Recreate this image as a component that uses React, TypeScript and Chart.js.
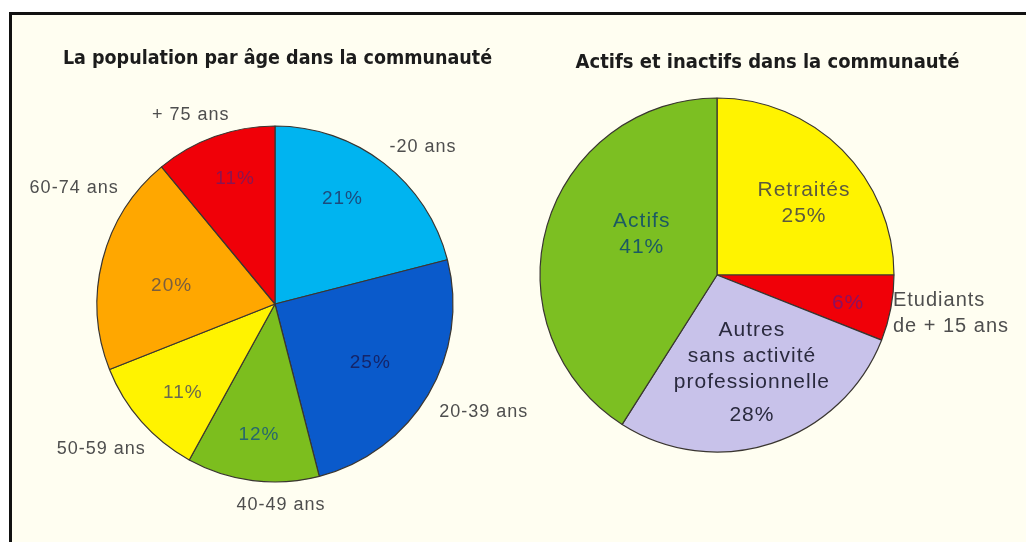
import React, { useEffect, useRef } from "react";
import { Chart, registerables } from "chart.js";

Chart.register(...registerables);

const W = 1026;
const H = 542;

// ---------- data ----------
const ageTitle = "La population par âge dans la communauté";
const ageCategories = ["-20 ans", "20-39 ans", "40-49 ans", "50-59 ans", "60-74 ans", "+ 75 ans"];
const ageValues = [21, 25, 12, 11, 20, 11];

const activityTitle = "Actifs et inactifs dans la communauté";
const activityCategories = [
  ["Retraités"],
  ["Etudiants", "de + 15 ans"],
  ["Autres", "sans activité", "professionnelle"],
  ["Actifs"],
];
const activityValues = [25, 6, 28, 41];

// ---------- styles ----------
const ageColors = ["#00B4F0", "#0A5ACB", "#7CBE1E", "#FFF300", "#FFA700", "#F00008"];
const ageTextColors = ["#1B4C7E", "#14256A", "#28686C", "#6A6A4E", "#7A5E3E", "#8C1450"];
const activityColors = ["#FFF300", "#F00008", "#C8C2EA", "#7CBF22"];
const activityTextColors = ["#5C5A3E", "#8C1060", "#2A2A3E", "#1C5A62"];

// label placement: angle (deg, clockwise from top) and distance as a fraction of the radius
const ageLayout = [
  { inner: [32.8, 0.7], outer: [43.3, 1.213] },
  { inner: [121.8, 0.63], outer: [117.3, 1.32] },
  { inner: [187, 0.74], outer: [178.3, 1.129] },
  { inner: [226, 0.72], outer: [230.2, 1.27] },
  { inner: [280, 0.59], outer: [300, 1.303] },
  { inner: [342.4, 0.74], outer: [336, 1.163] },
];
const activityLayout = [
  { inner: [50.5, 0.637], nameInside: true },
  { inner: [102, 0.757], outer: [102.2, 1.017], align: "left" },
  { inner: [160.4, 0.588], nameInside: true, gap: 7 },
  { inner: [298.5, 0.484], nameInside: true },
];

type Layout = { inner: number[]; outer?: number[]; nameInside?: boolean; align?: string; gap?: number };

function polar(cx: number, cy: number, r: number, p: number[]) {
  const a = (p[0] * Math.PI) / 180;
  return { x: cx + p[1] * r * Math.sin(a), y: cy - p[1] * r * Math.cos(a) };
}

function drawBlock(
  ctx: CanvasRenderingContext2D,
  lines: string[],
  pos: { x: number; y: number },
  align: CanvasTextAlign,
  font: string,
  color: string,
  lh: number,
  gap: number
) {
  ctx.save();
  ctx.font = font;
  (ctx as any).letterSpacing = "1px";
  ctx.fillStyle = color;
  ctx.textAlign = align;
  ctx.textBaseline = "middle";
  const total = (lines.length - 1) * lh + (lines.length > 1 ? gap : 0);
  let y = pos.y - total / 2;
  lines.forEach((ln, i) => {
    if (i === lines.length - 1 && i > 0) y += gap;
    ctx.fillText(ln, pos.x, y);
    y += lh;
  });
  ctx.restore();
}

const pieLabelPlugin = {
  id: "pieLabels",
  afterDatasetsDraw(chart: any, _args: any, opts: any) {
    const ctx: CanvasRenderingContext2D = chart.ctx;
    const meta = chart.getDatasetMeta(0);
    const ds = chart.data.datasets[0];
    const labels = chart.data.labels;
    meta.data.forEach((arc: any, i: number) => {
      const { x, y, outerRadius } = arc.getProps(["x", "y", "outerRadius"], true);
      const lay: Layout = opts.layout[i];
      const lines: string[] = Array.isArray(labels[i]) ? labels[i] : [labels[i]];
      const pct = ds.data[i] + "%";
      const innerLines = lay.nameInside ? [...lines, pct] : [pct];
      drawBlock(ctx, innerLines, polar(x, y, outerRadius, lay.inner), "center", opts.innerFont, opts.innerColors[i], opts.lineHeight, lay.gap || 0);
      if (!lay.nameInside && lay.outer) {
        drawBlock(ctx, lines, polar(x, y, outerRadius, lay.outer), (lay.align || "center") as CanvasTextAlign, opts.outerFont, opts.outerColor, opts.lineHeight, 0);
      }
    });
    // title
    ctx.save();
    ctx.font = opts.titleFont;
    ctx.fillStyle = "#1c1c1c";
    ctx.textAlign = "center";
    ctx.textBaseline = "alphabetic";
    ctx.fillText(opts.title, opts.titleX, opts.titleY);
    ctx.restore();
  },
};

function PieCanvas(props: {
  labels: any[];
  values: number[];
  colors: string[];
  textColors: string[];
  layout: Layout[];
  cx: number;
  cy: number;
  radius: number;
  title: string;
  titleX: number;
  titleY: number;
  titleFont: string;
  innerFont: string;
  outerFont: string;
  lineHeight: number;
}) {
  const ref = useRef<HTMLCanvasElement | null>(null);
  useEffect(() => {
    if (!ref.current) return;
    const dx = 2 * props.cx - W;
    const dy = 2 * props.cy - H;
    const chart = new Chart(ref.current, {
      type: "pie",
      data: {
        labels: props.labels,
        datasets: [
          {
            data: props.values,
            backgroundColor: props.colors,
            borderColor: "#3a3631",
            borderWidth: 1.2,
          },
        ],
      },
      options: {
        responsive: false,
        animation: false,
        radius: props.radius,
        layout: {
          padding: {
            left: Math.max(dx, 0),
            right: Math.max(-dx, 0),
            top: Math.max(dy, 0),
            bottom: Math.max(-dy, 0),
          },
        },
        events: [],
        plugins: {
          legend: { display: false },
          tooltip: { enabled: false },
          title: { display: false },
          pieLabels: {
            layout: props.layout,
            innerFont: props.innerFont,
            outerFont: props.outerFont,
            innerColors: props.textColors,
            outerColor: "#4E4E4E",
            lineHeight: props.lineHeight,
            title: props.title,
            titleX: props.titleX,
            titleY: props.titleY,
            titleFont: props.titleFont,
          },
        } as any,
      } as any,
      plugins: [pieLabelPlugin as any],
    });
    return () => chart.destroy();
  }, []);
  return (
    <canvas
      ref={ref}
      width={W}
      height={H}
      style={{ position: "absolute", left: 0, top: 0, width: W, height: H }}
    />
  );
}

export default function App() {
  return (
    <div style={{ position: "absolute", left: 0, top: 0, width: W, height: H, background: "#ffffff", overflow: "hidden" }}>
      <div
        style={{
          position: "absolute",
          left: 9,
          top: 12,
          width: W - 9,
          height: H - 12,
          boxSizing: "border-box",
          borderTop: "3px solid #111111",
          borderLeft: "3px solid #111111",
          background: "#FFFEF1",
        }}
      />
      <PieCanvas
        labels={ageCategories}
        values={ageValues}
        colors={ageColors}
        textColors={ageTextColors}
        layout={ageLayout}
        cx={275}
        cy={304}
        radius={178}
        title={ageTitle}
        titleX={277.5}
        titleY={64}
        titleFont='bold 19.5px "DejaVu Sans Condensed", "DejaVu Sans", sans-serif'
        innerFont='19px "Liberation Sans", Arial, sans-serif'
        outerFont='18px "Liberation Sans", Arial, sans-serif'
        lineHeight={26}
      />
      <PieCanvas
        labels={activityCategories}
        values={activityValues}
        colors={activityColors}
        textColors={activityTextColors}
        layout={activityLayout}
        cx={717}
        cy={275}
        radius={177}
        title={activityTitle}
        titleX={767.5}
        titleY={68}
        titleFont='bold 20px "DejaVu Sans Condensed", "DejaVu Sans", sans-serif'
        innerFont='21px "Liberation Sans", Arial, sans-serif'
        outerFont='20px "Liberation Sans", Arial, sans-serif'
        lineHeight={26}
      />
    </div>
  );
}
